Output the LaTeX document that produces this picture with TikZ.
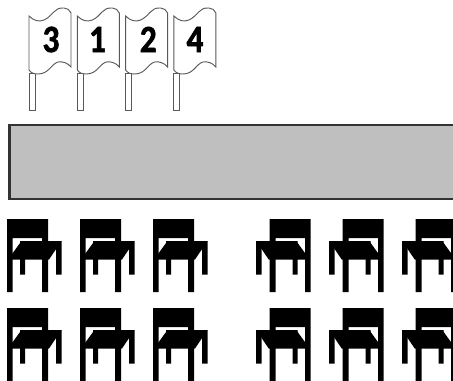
\documentclass[tikz,border=0pt]{standalone}
\usepackage{fontspec}
\newfontfamily\flagfont[FakeStretch=0.86, BoldFeatures={FakeBold=1.6}]{Carlito}
\begin{document}
\begin{tikzpicture}[x=0.75pt, y=-0.75pt,
      flagline/.style={draw=black!65, line width=0.7pt, fill=white},
      flagnum/.style={font=\flagfont\bfseries\fontsize{29}{29}\selectfont, inner sep=0pt},
      stage/.style={draw=black!80, line width=1.9pt, fill=black!25},
      flag/.pic={
        \draw[flagline] (0,73) rectangle (6,110);
        \draw[flagline] (0,16) .. controls (5,21) and (10,22) .. (15,20)
          .. controls (24,16) and (25,7) .. (35,8)
          .. controls (38,8) and (41,10) .. (42,13) -- (42,67)
          .. controls (39,63) and (33,61) .. (29,62)
          .. controls (22,64) and (20,74) .. (9,74)
          .. controls (5,74) and (2,73) .. (0,70) -- cycle;
      },
      chair/.pic={
        \fill (0,0) rectangle (41,19)
          (0,19) rectangle (5.5,73)
          (35,19) rectangle (41,73)
          (13,22) rectangle (18,55.5)
          (49,22) rectangle (54.5,55.5);
        \fill (14.5,22) -- (54.5,22) -- (42,40.5) -- (1,40.5) -- cycle;
      }]
    \useasboundingbox (0,0) rectangle (453,380);
    \clip (0,0) rectangle (453,380);
    % flags
    \foreach \num/\xnum [count=\i from 0] in {3/51,1/97.5,2/148.3,4/195} {
      \pic at ({29+48.3*\i},0) {flag};
      \node[flagnum] (flag\num) at (\xnum,39.5) {\num};
    }
    % stage
    \node[stage, minimum width=460pt, minimum height=55.5pt, anchor=north west, inner sep=0pt] (stage) at (8,123.7) {};
    % rows of chairs
    \foreach \row in {219,308} {
      \foreach \col in {7,80,153}
        \pic at (\col,\row) {chair};
      \foreach \col in {310.7,383.7,456.7}
        \pic[xscale=-1] at (\col,\row) {chair};
    }
  \end{tikzpicture}
\end{document}
